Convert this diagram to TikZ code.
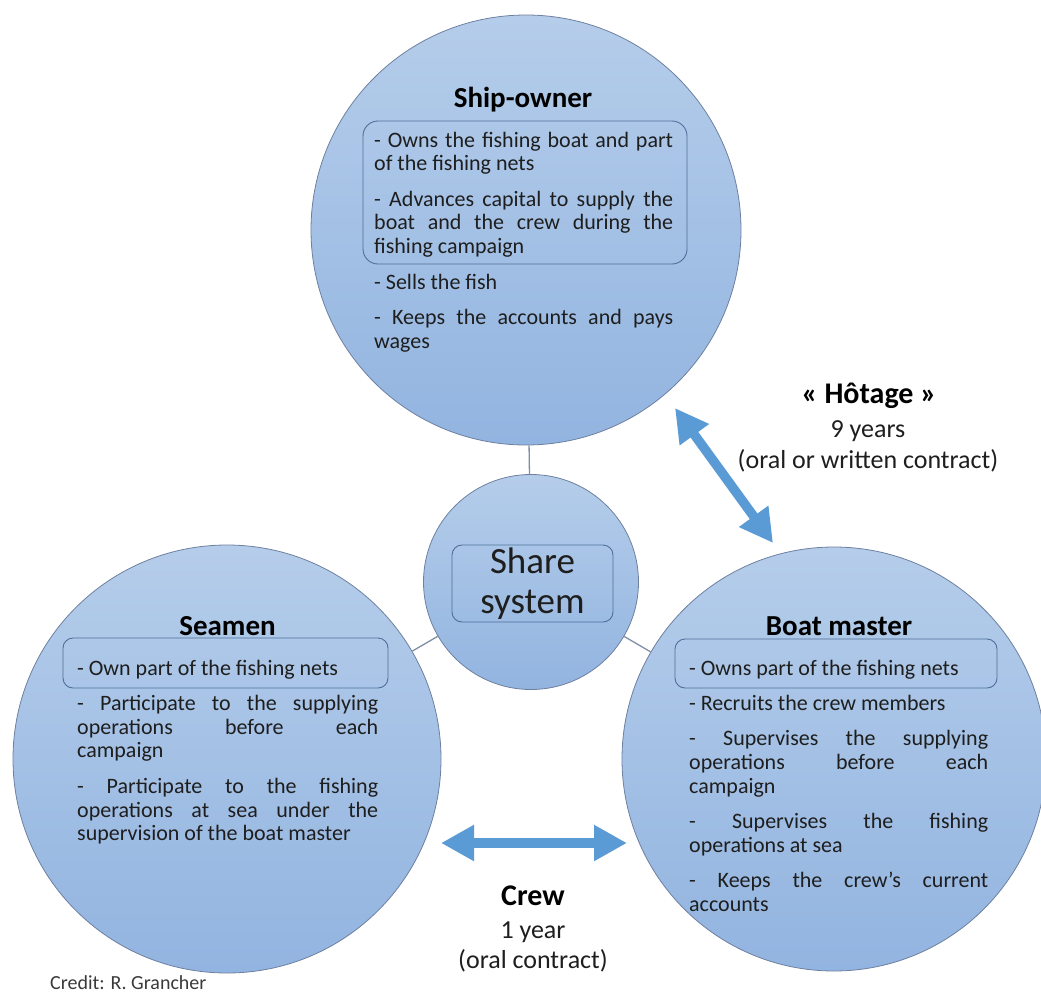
\documentclass[tikz,border=0pt]{standalone}
\usepackage{fontspec}
\setmainfont{Carlito}
\usetikzlibrary{arrows.meta}
\definecolor{cTop}{HTML}{B5CDEA}
\definecolor{cBot}{HTML}{92B4E0}
\definecolor{cEdge}{HTML}{6E80A0}
\definecolor{cFrame}{HTML}{4F6E9A}
\definecolor{cLink}{HTML}{7F8EA4}
\definecolor{cArrow}{HTML}{5B9BD5}
\definecolor{cText}{HTML}{1E1E1E}
\definecolor{cCredit}{HTML}{3A3A3A}
\newcommand\bodyset{\fontsize{22}{23.8}\selectfont\setlength{\parskip}{11.5pt}\tolerance=10000 \hyphenpenalty=10000 \relax}
\begin{document}
\begin{tikzpicture}[x=1pt,y=-1pt,
  bubble/.style={circle, draw=cEdge, line width=0.8pt, top color=cTop, bottom color=cBot, inner sep=0pt},
  framebox/.style={draw=cFrame, line width=0.9pt, rounded corners=10pt, inner sep=0pt},
  ttl/.style={anchor=base, inner sep=0pt, text=black, font=\bfseries\fontsize{29}{32}\selectfont},
  bodytext/.style={anchor=base west, inner sep=0pt, align=justify, text=cText, font=\bodyset},
  lbltext/.style={anchor=base, inner sep=0pt, text=cText, font=\fontsize{26}{30}\selectfont},
  lbltitle/.style={anchor=base, inner sep=0pt, text=black, font=\bfseries\fontsize{30}{34}\selectfont},
  conn/.style={draw=cLink, line width=1.3pt},
  dblarrow/.style={draw=cArrow, line width=9.5pt, {Triangle[length=33pt,width=34pt]}-{Triangle[length=33pt,width=34pt]}}
]
\useasboundingbox (0,0) rectangle (1041,996);

% circles
\node[bubble, minimum size=430pt] (owner) at (526,230) {};
\node[bubble, minimum size=215pt] (share) at (531,582) {};
\node[bubble, minimum size=428pt] (seamen) at (227,759) {};
\node[bubble, minimum size=424pt] (master) at (834,759) {};

% connectors
\draw[conn] (owner) -- (share);
\draw[conn] (share) -- (seamen);
\draw[conn] (share) -- (master);

% ship-owner
\node[ttl] (ownerT) at (523,107) {Ship-owner};
\node[framebox, rounded corners=15pt, minimum width=324pt, minimum height=143pt] (ownerBox) at (525,192.5) {};
\node[bodytext, text width=299pt] (ownerTxt) at (374,147) {- Owns the fishing boat and part\linebreak of the fishing nets\par - Advances capital to supply the\linebreak boat and the crew during the\linebreak fishing campaign\par - Sells the fish\par - Keeps the accounts and pays\linebreak wages};

% share system
\node[framebox, minimum width=161pt, minimum height=77pt] (shareBox) at (532.5,583.5) {};
\node[inner sep=0pt, align=center, text=cText, font=\fontsize{37}{40}\selectfont] (shareTxt) at (532.5,584) {Share\\system};

% seamen
\node[ttl] (seamenT) at (227.5,635) {Seamen};
\node[framebox, minimum width=325pt, minimum height=50pt] (seamenBox) at (225.5,663) {};
\node[bodytext, text width=301pt] (seamenTxt) at (77,675) {- Own part of the fishing nets\par - Participate to the supplying\linebreak operations before each\linebreak campaign\par - Participate to the fishing\linebreak operations at sea under the\linebreak supervision of the boat master};

% boat master
\node[ttl] (masterT) at (839,635) {Boat master};
\node[framebox, minimum width=322pt, minimum height=49pt] (masterBox) at (836,663.5) {};
\node[bodytext, text width=299pt] (masterTxt) at (689,675) {- Owns part of the fishing nets\par - Recruits the crew members\par - Supervises the supplying\linebreak operations before each\linebreak campaign\par - Supervises the fishing\linebreak operations at sea\par - Keeps the crew’s current\linebreak accounts};

% arrows
\coordinate (hA) at (675,408);
\coordinate (hB) at (773,543);
\draw[dblarrow] (hA) -- (hB);
\coordinate (cA) at (441,843);
\coordinate (cB) at (627,843);
\draw[dblarrow] (cA) -- (cB);

% labels
\node[lbltitle] (hot1) at (869,403) {« Hôtage »};
\node[lbltext] (hot2) at (868,437) {9 years};
\node[lbltext] (hot3) at (868,468) {(oral or written contract)};
\node[lbltitle] (crew1) at (533,905) {Crew};
\node[lbltext] (crew2) at (533,938) {1 year};
\node[lbltext] (crew3) at (533,968) {(oral contract)};

% credit
\node[anchor=base west, inner sep=0pt, text=cCredit, font=\fontsize{20}{24}\selectfont] (credit) at (50,989) {Credit: R. Grancher};
\end{tikzpicture}
\end{document}
